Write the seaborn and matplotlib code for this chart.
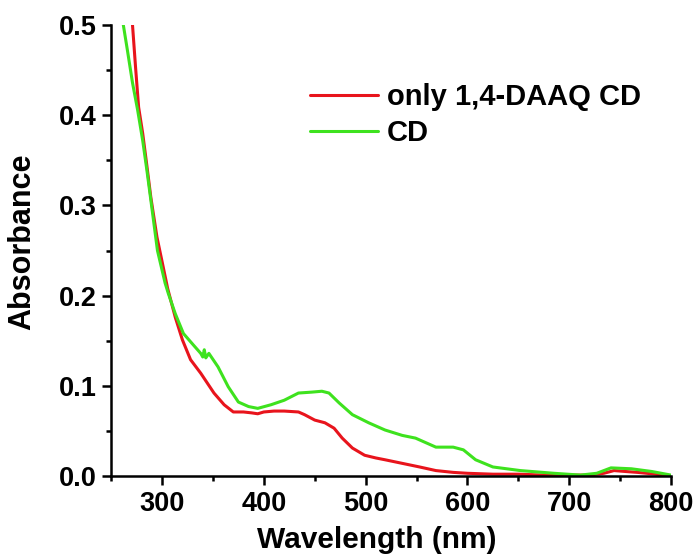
import matplotlib
matplotlib.use("Agg")
import matplotlib.pyplot as plt
import seaborn as sns
import numpy as np
import pandas as pd
from matplotlib.ticker import MultipleLocator

# ---- data ----
red_wl = [268, 271, 274, 277, 281, 285, 289, 295, 300, 305.5, 313, 320, 328, 338, 351, 361, 370,
          380, 388, 394, 400, 410, 420, 434, 440, 450, 460, 469, 477, 487, 499, 510, 519, 536,
          553, 569, 586, 600, 625, 650, 675, 700, 720, 734, 744, 755, 767, 785, 800]
red_abs = [0.55, 0.50, 0.453, 0.409, 0.380, 0.345, 0.309, 0.265, 0.238, 0.208, 0.176, 0.151, 0.129,
           0.114, 0.092, 0.079, 0.071, 0.071, 0.070, 0.069, 0.071, 0.072, 0.072, 0.071, 0.068,
           0.062, 0.059, 0.053, 0.042, 0.031, 0.023, 0.020, 0.018, 0.014, 0.010, 0.006, 0.004,
           0.003, 0.002, 0.002, 0.001, 0.001, 0.001, 0.003, 0.006, 0.005, 0.004, 0.002, 0.0]

green_wl = [258, 262, 266, 271, 276, 281, 285, 289, 295.5, 303, 306, 313, 321, 331, 338, 340, 341.5,
            343, 346, 355, 365, 375, 385, 394, 407, 420, 434, 447, 457, 464, 474, 487, 503,
            519, 536, 549, 559, 569, 578, 586, 596, 608, 625, 652, 685, 711, 727, 741, 761,
            781, 800]
green_abs = [0.53, 0.50, 0.472, 0.436, 0.406, 0.372, 0.340, 0.306, 0.250, 0.214, 0.203, 0.180,
             0.158, 0.145, 0.136, 0.132, 0.140, 0.131, 0.136, 0.121, 0.099, 0.082, 0.077, 0.075,
             0.079, 0.084, 0.092, 0.093, 0.094, 0.092, 0.081, 0.068, 0.059, 0.051, 0.045, 0.042,
             0.037, 0.032, 0.032, 0.032, 0.029, 0.018, 0.010, 0.006, 0.003, 0.001, 0.003, 0.009,
             0.008, 0.005, 0.001]

series_names = ["only 1,4-DAAQ CD", "CD"]
x_ticks = [300, 400, 500, 600, 700, 800]
y_ticks = [0.0, 0.1, 0.2, 0.3, 0.4, 0.5]

df = pd.concat([
    pd.DataFrame({"Wavelength": red_wl, "Absorbance": red_abs, "Sample": series_names[0]}),
    pd.DataFrame({"Wavelength": green_wl, "Absorbance": green_abs, "Sample": series_names[1]}),
], ignore_index=True)

sns.set_theme(style="ticks")
plt.rcParams["font.family"] = ["Liberation Sans", "DejaVu Sans"]
plt.rcParams["font.weight"] = "bold"
plt.rcParams["text.color"] = "black"
plt.rcParams["axes.labelcolor"] = "black"

fig = plt.figure(figsize=(6.99, 5.59), dpi=100)
ax = fig.add_axes([0.159, 0.1485, 0.801, 0.8065])

palette = {series_names[0]: "#e8141c", series_names[1]: "#3ee21e"}
sns.lineplot(data=df, x="Wavelength", y="Absorbance", hue="Sample", palette=palette,
             linewidth=2.2, sort=False, ax=ax, estimator=None)

ax.set_xlim(250, 800)
ax.set_ylim(0, 0.5)
ax.set_xticks(x_ticks)
ax.set_yticks(y_ticks)
ax.set_xticklabels([str(v) for v in x_ticks])
ax.set_yticklabels([f"{v:.1f}" for v in y_ticks])
ax.xaxis.set_minor_locator(MultipleLocator(50))
ax.yaxis.set_minor_locator(MultipleLocator(0.05))

for s in ["top", "right"]:
    ax.spines[s].set_visible(False)
for s in ["left", "bottom"]:
    ax.spines[s].set_linewidth(1.8)
    ax.spines[s].set_color("black")

ax.tick_params(which="major", direction="out", length=6.5, width=1.8, colors="black",
               labelsize=19.5, pad=4)
ax.tick_params(which="minor", direction="out", length=3.5, width=1.8, colors="black")
for lab in ax.get_xticklabels() + ax.get_yticklabels():
    lab.set_fontweight("bold")
    lab.set_color("black")

ax.set_xlabel("Wavelength (nm)", fontsize=21.5, fontweight="bold", color="black")
ax.set_ylabel("Absorbance", fontsize=22, fontweight="bold", color="black")
ax.xaxis.label.set_va("center")
ax.yaxis.label.set_va("center")
ax.yaxis.label.set_rotation_mode("default")
ax.xaxis.set_label_coords(0.475, -0.143)
ax.yaxis.set_label_coords(-0.158, 0.519)

leg = ax.legend(loc="upper left", bbox_to_anchor=(0.355, 0.872), frameon=False,
                fontsize=21, handlelength=2.35, handletextpad=0.3, borderpad=0,
                borderaxespad=0, labelspacing=0.29, title=None)
for t in leg.get_texts():
    t.set_fontweight("bold")
    t.set_color("black")
for h in leg.get_lines():
    h.set_linewidth(2.2)

fig.savefig("out.png", dpi=100)
